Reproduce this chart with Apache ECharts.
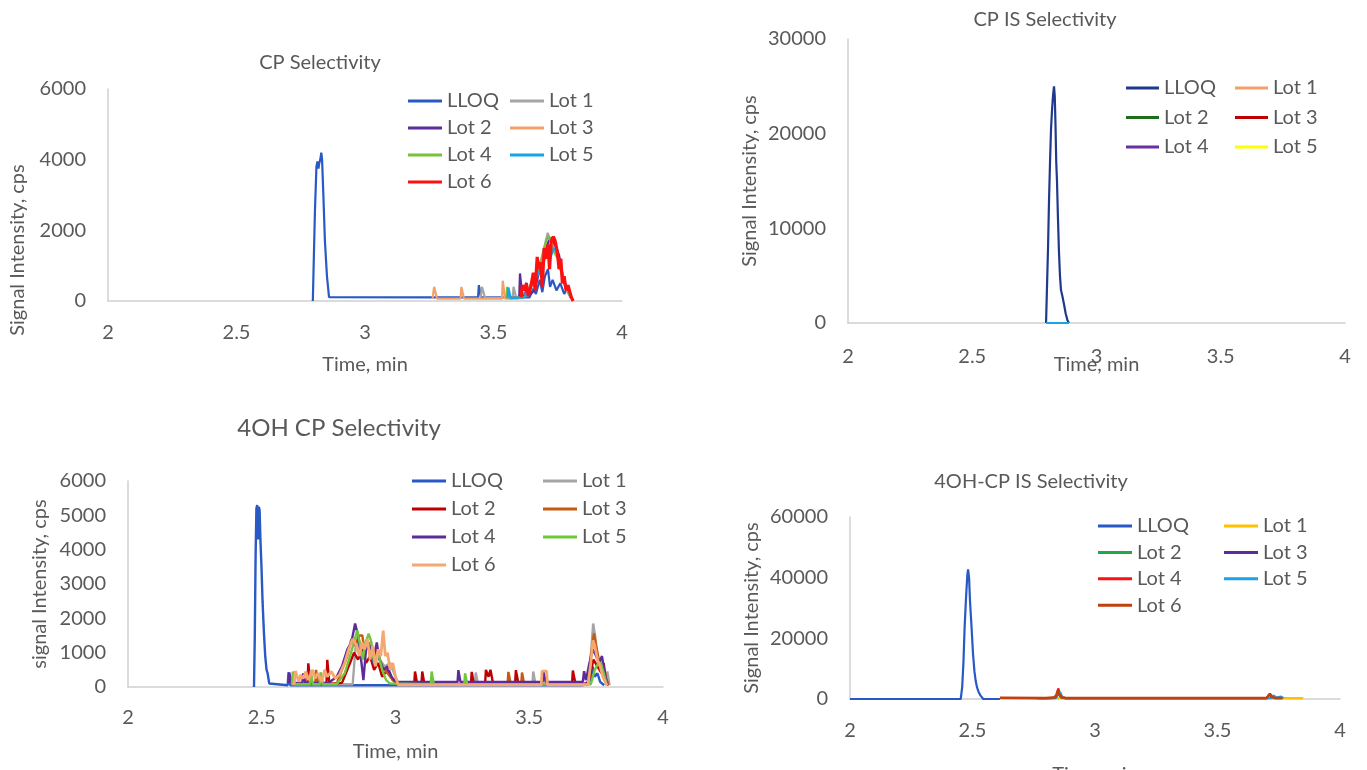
<!DOCTYPE html>
<html>
<head>
<meta charset="utf-8">
<script src="https://cdn.jsdelivr.net/npm/echarts@6/dist/echarts.min.js"></script>
<style>html,body{margin:0;padding:0;background:#fff;}#c{width:1367px;height:770px;}</style>
</head>
<body>
<div id="c"></div>
<script>
// ---------- Tick labels / axes ----------
const titles = ['CP Selectivity', 'CP IS Selectivity', '4OH CP Selectivity', '4OH-CP IS Selectivity'];
const yNames = ['Signal Intensity, cps', 'Signal Intensity, cps', 'signal Intensity, cps', 'Signal Intensity, cps'];
const xName = 'Time, min';
const xMin = 2, xMax = 4, xStep = 0.5;
const yMax = [6000, 30000, 6000, 60000];
const yStep = [2000, 10000, 1000, 20000];

// ---------- Legend labels ----------
const labels1 = ['LLOQ', 'Lot 1', 'Lot 2', 'Lot 3', 'Lot 4', 'Lot 5', 'Lot 6'];
const labels2 = ['LLOQ', 'Lot 1', 'Lot 2', 'Lot 3', 'Lot 4', 'Lot 5'];
const labels3 = ['LLOQ', 'Lot 1', 'Lot 2', 'Lot 3', 'Lot 4', 'Lot 5', 'Lot 6'];
const labels4 = ['LLOQ', 'Lot 1', 'Lot 2', 'Lot 3', 'Lot 4', 'Lot 5', 'Lot 6'];

// ---------- Panel 1: CP Selectivity  [time, cps] ----------
const cpLLOQ = [[2.797,0],[2.805,2500],[2.811,3800],[2.815,3950],[2.819,3750],[2.822,3900],[2.826,4000],[2.830,4200],[2.833,4000],[2.838,3000],[2.844,1700],[2.852,700],[2.860,110],[3.263,100],[3.440,100],[3.443,450],[3.449,450],[3.452,100],[3.640,100],[3.655,350],[3.665,200],[3.680,600],[3.690,250],[3.700,700],[3.712,900],[3.720,400],[3.730,600],[3.745,300],[3.760,500],[3.775,200],[3.790,400],[3.800,100]];
const cpLot1 = [[3.450,90],[3.455,400],[3.462,400],[3.467,90],[3.575,90],[3.578,400],[3.585,400],[3.588,90],[3.640,300],[3.660,600],[3.675,900],[3.690,1300],[3.700,1600],[3.711,1930],[3.720,1700],[3.730,1500],[3.740,1650],[3.750,1300],[3.760,900],[3.770,600],[3.785,300],[3.800,100]];
const cpLot2 = [[3.550,90],[3.600,90],[3.603,780],[3.609,780],[3.612,150],[3.624,150],[3.627,520],[3.632,520],[3.636,150],[3.660,300],[3.680,900],[3.700,1400],[3.715,1700],[3.727,1800],[3.735,1650],[3.745,1500],[3.755,1300],[3.765,900],[3.775,500],[3.790,350],[3.800,100]];
const cpLot3 = [[3.263,70],[3.269,400],[3.275,400],[3.280,70],[3.372,70],[3.375,400],[3.380,400],[3.385,70],[3.533,70],[3.536,575],[3.541,575],[3.545,70],[3.600,70]];
const cpLot4 = [[3.550,80],[3.553,400],[3.559,400],[3.562,80],[3.620,100],[3.640,400],[3.660,700],[3.680,1000],[3.695,1400],[3.705,1700],[3.715,1850],[3.725,1600],[3.735,1400],[3.750,1200],[3.765,800],[3.780,400],[3.800,100]];
const cpLot5 = [[3.555,80],[3.558,380],[3.564,380],[3.567,80],[3.620,100],[3.650,500],[3.670,700],[3.690,1000],[3.705,1300],[3.720,1200],[3.735,1500],[3.745,1400],[3.760,1000],[3.775,600],[3.790,300],[3.805,100]];
const cpLot6 = [[3.608,100],[3.612,450],[3.620,300],[3.628,500],[3.635,150],[3.645,400],[3.655,800],[3.662,300],[3.670,1250],[3.676,900],[3.683,1100],[3.690,400],[3.697,1500],[3.705,1200],[3.712,1600],[3.718,900],[3.725,1700],[3.733,1820],[3.740,1700],[3.748,1400],[3.755,900],[3.762,1200],[3.768,500],[3.775,700],[3.782,300],[3.790,450],[3.797,400],[3.803,100],[3.810,0]];

// ---------- Panel 2: CP IS Selectivity ----------
const isLLOQ = [[2.797,0],[2.801,4000],[2.805,8000],[2.809,13000],[2.813,17000],[2.817,20500],[2.821,22500],[2.825,24000],[2.829,25000],[2.832,24000],[2.835,21000],[2.838,17000],[2.841,15000],[2.845,11000],[2.849,7500],[2.853,5000],[2.857,3500],[2.863,2800],[2.869,2000],[2.876,1000],[2.883,300],[2.889,0]];
const isLot1 = [[2.797,0],[2.889,0]];
const isLot2 = [[2.797,0],[2.889,0]];
const isLot3 = [[2.797,0],[2.889,0]];
const isLot4 = [[2.797,0],[2.889,0]];
const isLot5 = [[2.797,0],[2.889,0]];
const isBase = [[2.797,0],[2.889,0]];

// ---------- Panel 3: 4OH CP Selectivity ----------
const ohLLOQ = [[2.471,0],[2.474,1500],[2.477,3800],[2.480,5200],[2.483,5300],[2.486,4300],[2.489,5250],[2.492,5150],[2.495,4300],[2.499,3500],[2.503,2500],[2.508,1600],[2.513,900],[2.518,500],[2.522,400],[2.528,100],[2.534,50],[2.597,50],[2.600,430],[2.604,430],[2.607,50],[3.700,50],[3.730,200],[3.737,600],[3.745,300],[3.755,400],[3.765,150],[3.780,50]];
const ohLot1 = [[2.610,80],[2.840,80],[2.850,1100],[2.860,1500],[2.870,1200],[2.880,900],[2.900,1300],[2.920,1000],[2.940,800],[2.960,600],[2.980,700],[3.000,300],[3.010,80],[3.297,80],[3.300,420],[3.305,420],[3.308,80],[3.512,80],[3.515,450],[3.520,450],[3.523,80],[3.720,80],[3.730,900],[3.739,1850],[3.746,1500],[3.755,900],[3.765,600],[3.775,400],[3.785,250],[3.792,450],[3.797,450],[3.800,50]];
const ohLot2 = [[2.620,90],[2.671,90],[2.674,690],[2.679,690],[2.682,90],[2.742,90],[2.745,790],[2.750,790],[2.753,90],[2.800,120],[2.830,700],[2.845,1000],[2.860,800],[2.875,1100],[2.890,700],[2.905,900],[2.920,500],[2.935,700],[2.950,300],[2.970,500],[2.990,200],[3.010,90],[3.070,90],[3.073,450],[3.078,450],[3.081,90],[3.097,90],[3.100,450],[3.105,450],[3.108,90],[3.282,90],[3.285,440],[3.290,440],[3.293,90],[3.335,90],[3.338,500],[3.345,500],[3.348,300],[3.355,500],[3.362,500],[3.365,90],[3.447,90],[3.450,490],[3.457,490],[3.460,90],[3.660,90],[3.663,480],[3.670,480],[3.673,90],[3.720,100],[3.740,800],[3.755,600],[3.770,400],[3.778,700],[3.785,300],[3.795,50]];
const ohLot3 = [[2.620,80],[2.700,80],[2.703,500],[2.708,500],[2.711,80],[2.780,100],[2.800,500],[2.820,900],[2.835,1400],[2.850,1200],[2.865,1500],[2.876,1500],[2.885,1000],[2.900,1300],[2.915,900],[2.930,1100],[2.950,600],[2.970,400],[2.990,200],[3.010,80],[3.419,80],[3.422,440],[3.428,440],[3.431,80],[3.470,80],[3.473,420],[3.478,420],[3.481,80],[3.720,80],[3.730,900],[3.742,1560],[3.750,1200],[3.760,800],[3.775,600],[3.785,300],[3.795,50]];
const ohLot4 = [[2.600,120],[2.603,420],[2.608,420],[2.611,120],[2.652,120],[2.655,400],[2.660,400],[2.663,120],[2.750,120],[2.780,300],[2.800,600],[2.820,1100],[2.835,1300],[2.849,1850],[2.860,1500],[2.870,900],[2.880,200],[2.890,1100],[2.905,1200],[2.915,700],[2.930,1300],[2.940,800],[2.955,500],[2.970,600],[2.985,300],[3.000,150],[3.232,150],[3.235,490],[3.240,490],[3.243,150],[3.550,150],[3.553,450],[3.558,450],[3.561,150],[3.700,150],[3.705,460],[3.712,200],[3.725,700],[3.738,1100],[3.750,900],[3.760,700],[3.772,900],[3.782,400],[3.790,100]];
const ohLot5 = [[2.613,80],[2.616,450],[2.621,450],[2.624,80],[2.680,80],[2.683,470],[2.688,470],[2.691,80],[2.717,80],[2.720,430],[2.725,430],[2.728,80],[2.780,80],[2.810,400],[2.830,900],[2.845,1300],[2.857,1650],[2.868,1200],[2.878,800],[2.888,1300],[2.900,1550],[2.910,1300],[2.920,700],[2.935,1000],[2.950,500],[2.965,200],[2.980,100],[3.132,80],[3.135,450],[3.140,450],[3.143,80],[3.257,80],[3.260,400],[3.265,400],[3.268,80],[3.730,80],[3.745,500],[3.758,700],[3.768,700],[3.775,500],[3.785,200],[3.790,50]];
const ohLot6 = [[2.620,60],[2.626,470],[2.632,470],[2.638,150],[2.645,350],[2.655,250],[2.665,450],[2.675,200],[2.690,500],[2.700,250],[2.710,400],[2.725,150],[2.735,500],[2.745,300],[2.760,450],[2.775,250],[2.790,350],[2.810,700],[2.825,1100],[2.840,1400],[2.855,1200],[2.865,900],[2.875,1300],[2.885,1100],[2.895,1400],[2.905,800],[2.915,1200],[2.925,600],[2.935,1100],[2.945,900],[2.954,1640],[2.962,900],[2.970,1000],[2.980,500],[2.990,700],[3.000,300],[3.010,60],[3.545,60],[3.548,460],[3.565,460],[3.568,60],[3.720,60],[3.730,700],[3.738,1360],[3.745,1200],[3.755,800],[3.765,600],[3.775,300],[3.790,50]];

// ---------- Panel 4: 4OH-CP IS Selectivity ----------
const ohisLLOQ = [[2.000,0],[2.452,0],[2.458,4000],[2.463,12000],[2.468,24000],[2.474,34000],[2.479,41000],[2.482,42700],[2.486,40000],[2.490,32000],[2.496,23800],[2.502,15000],[2.508,9000],[2.513,6000],[2.518,4000],[2.524,2500],[2.532,1200],[2.544,0],[2.612,0]];
const ohisLot1 = [[2.612,300],[3.850,300]];
const ohisLot2 = [[2.830,300],[2.846,1200],[2.852,2200],[2.860,600],[2.875,300]];
const ohisLot3 = [[2.835,300],[2.850,1500],[2.858,900],[2.870,300]];
const ohisLot4 = [[2.770,300],[2.774,800],[2.778,300],[2.830,300],[2.845,1500],[2.850,3500],[2.856,2000],[2.865,600],[2.880,300],[3.700,300],[3.714,1800],[3.725,600],[3.740,300]];
const ohisLot5 = [[2.760,300],[2.765,800],[2.770,300],[2.840,300],[2.850,1500],[2.858,2200],[2.866,800],[2.875,300],[3.720,300],[3.728,1200],[3.740,500],[3.760,800],[3.770,300]];
const ohisLot6 = [[2.612,400],[2.800,300],[2.840,600],[2.848,2800],[2.855,1500],[2.865,500],[2.880,300],[3.700,300],[3.712,1500],[3.720,800],[3.735,300],[3.765,300]];

// ---------- Build options ----------
const GRAY = '#595959';
const FONT = 'Lato, "Open Sans", sans-serif';
const grids = [
  {left:108, top:89, width:514, height:212, outerBoundsMode:'none'},
  {left:848, top:39, width:497, height:284, outerBoundsMode:'none'},
  {left:128, top:481, width:535, height:206, outerBoundsMode:'none'},
  {left:850, top:517, width:490, height:182, outerBoundsMode:'none'}
];
const yNameGap = [80, 88, 78, 88];
const yNamePad = [[0,110,0,0],[0,0,0,0],[0,0,0,0],[0,0,0,0]];
const xLabelMargin = [22, 24, 21, 22];
const xNameGap = [54, 32, 55, 66];

const panels = [
  {id:'a', labels:labels1, data:[cpLLOQ,cpLot1,cpLot2,cpLot3,cpLot4,cpLot5,cpLot6],
   colors:['#2859C5','#A5A5A5','#5B2C9A','#F4A06A','#78C23A','#1AA3E8','#FF1010'], widths:[2.2,2.2,2.2,2.2,2.2,2.2,3.2]},
  {id:'b', labels:labels2, data:[isLLOQ,isLot1,isLot2,isLot3,isLot4,isLot5],
   colors:['#1F3A8C','#F4A06A','#1E6E1E','#C00000','#6A2FA0','#FFFF00'], widths:[2.2,2,2,2,2,2]},
  {id:'c', labels:labels3, data:[ohLLOQ,ohLot1,ohLot2,ohLot3,ohLot4,ohLot5,ohLot6],
   colors:['#2859C5','#A5A5A5','#C00000','#C55A11','#5B2C9A','#70C73C','#F6A670'], widths:[2.4,2.4,2.4,2.4,2.4,2.4,2.8]},
  {id:'d', labels:labels4, data:[ohisLLOQ,ohisLot1,ohisLot2,ohisLot3,ohisLot4,ohisLot5,ohisLot6],
   colors:['#2859C5','#FFC000','#22A84A','#5B2C9A','#FF1010','#1AA3E8','#C0410F'], widths:[2.2,2.2,2.2,2.2,2.2,2.2,2.6]}
];
const legendPos = [
  {top:91, gap:7, l:408, r:510, w:34},
  {top:78, gap:9.5, l:1126, r:1235, w:33},
  {top:471, gap:8, l:412, r:543, w:34},
  {top:516, gap:6.4, l:1098, r:1224, w:34}
];
const titlePos = [[320,63,20],[1045,20,20],[339,428,24],[1031,482,20]];

const series = [], legends = [], xAxes = [], yAxes = [], titleArr = [];
panels.forEach((p, i) => {
  const names = p.labels.map(l => p.id + ':' + l);
  p.data.forEach((d, k) => {
    series.push({type:'line', name:names[k], data:d, xAxisIndex:i, yAxisIndex:i,
      symbol:'none', showSymbol:false, silent:true, animation:false,
      lineStyle:{color:p.colors[k], width:p.widths[k]}, itemStyle:{color:p.colors[k]}});
  });
  if (i === 1) {
    series.push({type:'line', name:'b:base', data:isBase, xAxisIndex:1, yAxisIndex:1,
      symbol:'none', silent:true, animation:false, lineStyle:{color:'#1AA3E8', width:2}, itemStyle:{color:'#1AA3E8'}});
  }
  const lp = legendPos[i];
  const common = {orient:'vertical', top:lp.top, itemGap:lp.gap, itemWidth:lp.w, itemHeight:3, icon:'rect',
    padding:0, selectedMode:false, formatter: n => n.split(':')[1],
    textStyle:{color:GRAY, fontSize:20, fontFamily:FONT, lineHeight:20}};
  legends.push(Object.assign({}, common, {left:lp.l, data:names.filter((n,k)=>k%2===0)}));
  legends.push(Object.assign({}, common, {left:lp.r, data:names.filter((n,k)=>k%2===1)}));
  xAxes.push({type:'value', gridIndex:i, min:xMin, max:xMax, interval:xStep,
    name:xName, nameLocation:'middle', nameGap:xNameGap[i], nameMoveOverlap:false,
    nameTextStyle:{color:GRAY, fontSize:20, fontFamily:FONT},
    axisLine:{show:true, lineStyle:{color:'#D0D0D0', width:1.5}}, axisTick:{show:false}, splitLine:{show:false},
    axisLabel:{color:GRAY, fontSize:20, fontFamily:FONT, margin:xLabelMargin[i], formatter: v => String(v)}});
  yAxes.push({type:'value', gridIndex:i, min:0, max:yMax[i], interval:yStep[i],
    name:yNames[i], nameLocation:'middle', nameGap:yNameGap[i], nameMoveOverlap:false,
    nameTextStyle:{color:GRAY, fontSize:20, fontFamily:FONT, padding:yNamePad[i]},
    axisLine:{show:true, lineStyle:{color:'#D0D0D0', width:1.5}}, axisTick:{show:false}, splitLine:{show:false},
    axisLabel:{color:GRAY, fontSize:20, fontFamily:FONT, margin:22, formatter: v => String(v)}});
  const tp = titlePos[i];
  titleArr.push({text:titles[i], left:tp[0], top:tp[1]-tp[2]*0.5, textAlign:'center', padding:0,
    textStyle:{color:GRAY, fontSize:tp[2], fontWeight:'normal', fontFamily:FONT}});
});

const chart = echarts.init(document.getElementById('c'), null, {renderer:'canvas'});
chart.setOption({
  backgroundColor:'#ffffff', animation:false,
  title:titleArr, grid:grids, xAxis:xAxes, yAxis:yAxes, legend:legends, series:series
});
</script>
</body>
</html>
